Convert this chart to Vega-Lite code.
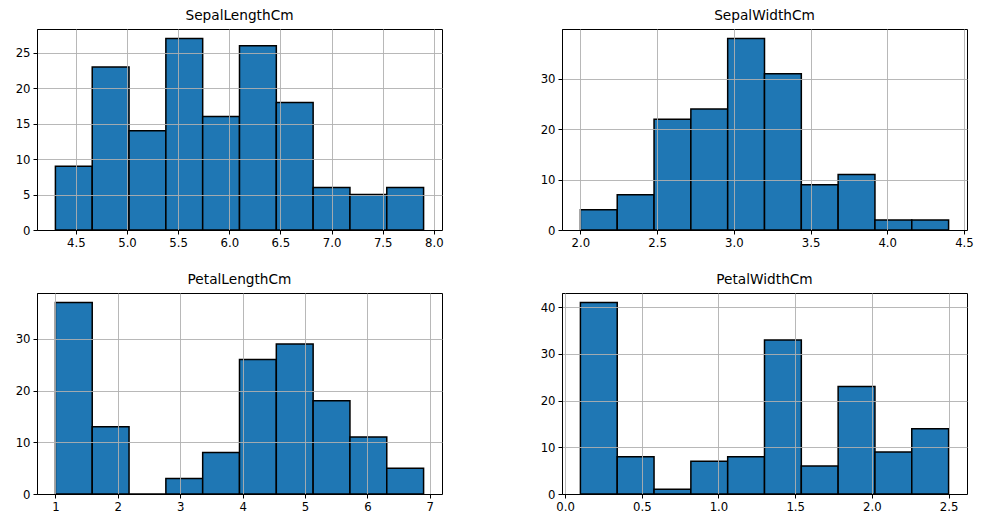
{
  "$schema": "https://vega.github.io/schema/vega-lite/v6.json",
  "background": "white",
  "padding": {"left": 14, "top": 8, "right": 5, "bottom": 5},
  "config": {
    "font": "DejaVu Sans",
    "view": {"stroke": "black", "strokeWidth": 1},
    "axis": {
      "labelFont": "DejaVu Sans", "labelFontSize": 11.7, "labelColor": "black",
      "tickColor": "black", "tickSize": 4, "tickWidth": 1, "labelPadding": 3,
      "domainColor": "black", "domainWidth": 1,
      "grid": true, "gridColor": "#b0b0b0", "gridWidth": 0.9,
      "title": null
    },
    "title": {"font": "DejaVu Sans", "fontSize": 13.7, "fontWeight": "normal", "color": "black", "offset": 6}
  },
  "data": {"values": [
    {"v": "SepalLengthCm", "lo": 4.3, "hi": 4.66, "n": 9},
    {"v": "SepalLengthCm", "lo": 4.66, "hi": 5.02, "n": 23},
    {"v": "SepalLengthCm", "lo": 5.02, "hi": 5.38, "n": 14},
    {"v": "SepalLengthCm", "lo": 5.38, "hi": 5.74, "n": 27},
    {"v": "SepalLengthCm", "lo": 5.74, "hi": 6.1, "n": 16},
    {"v": "SepalLengthCm", "lo": 6.1, "hi": 6.46, "n": 26},
    {"v": "SepalLengthCm", "lo": 6.46, "hi": 6.82, "n": 18},
    {"v": "SepalLengthCm", "lo": 6.82, "hi": 7.18, "n": 6},
    {"v": "SepalLengthCm", "lo": 7.18, "hi": 7.54, "n": 5},
    {"v": "SepalLengthCm", "lo": 7.54, "hi": 7.9, "n": 6},
    {"v": "SepalWidthCm", "lo": 2.0, "hi": 2.24, "n": 4},
    {"v": "SepalWidthCm", "lo": 2.24, "hi": 2.48, "n": 7},
    {"v": "SepalWidthCm", "lo": 2.48, "hi": 2.72, "n": 22},
    {"v": "SepalWidthCm", "lo": 2.72, "hi": 2.96, "n": 24},
    {"v": "SepalWidthCm", "lo": 2.96, "hi": 3.2, "n": 38},
    {"v": "SepalWidthCm", "lo": 3.2, "hi": 3.44, "n": 31},
    {"v": "SepalWidthCm", "lo": 3.44, "hi": 3.68, "n": 9},
    {"v": "SepalWidthCm", "lo": 3.68, "hi": 3.92, "n": 11},
    {"v": "SepalWidthCm", "lo": 3.92, "hi": 4.16, "n": 2},
    {"v": "SepalWidthCm", "lo": 4.16, "hi": 4.4, "n": 2},
    {"v": "PetalLengthCm", "lo": 1.0, "hi": 1.59, "n": 37},
    {"v": "PetalLengthCm", "lo": 1.59, "hi": 2.18, "n": 13},
    {"v": "PetalLengthCm", "lo": 2.18, "hi": 2.77, "n": 0},
    {"v": "PetalLengthCm", "lo": 2.77, "hi": 3.36, "n": 3},
    {"v": "PetalLengthCm", "lo": 3.36, "hi": 3.95, "n": 8},
    {"v": "PetalLengthCm", "lo": 3.95, "hi": 4.54, "n": 26},
    {"v": "PetalLengthCm", "lo": 4.54, "hi": 5.13, "n": 29},
    {"v": "PetalLengthCm", "lo": 5.13, "hi": 5.72, "n": 18},
    {"v": "PetalLengthCm", "lo": 5.72, "hi": 6.31, "n": 11},
    {"v": "PetalLengthCm", "lo": 6.31, "hi": 6.9, "n": 5},
    {"v": "PetalWidthCm", "lo": 0.1, "hi": 0.34, "n": 41},
    {"v": "PetalWidthCm", "lo": 0.34, "hi": 0.58, "n": 8},
    {"v": "PetalWidthCm", "lo": 0.58, "hi": 0.82, "n": 1},
    {"v": "PetalWidthCm", "lo": 0.82, "hi": 1.06, "n": 7},
    {"v": "PetalWidthCm", "lo": 1.06, "hi": 1.3, "n": 8},
    {"v": "PetalWidthCm", "lo": 1.3, "hi": 1.54, "n": 33},
    {"v": "PetalWidthCm", "lo": 1.54, "hi": 1.78, "n": 6},
    {"v": "PetalWidthCm", "lo": 1.78, "hi": 2.02, "n": 23},
    {"v": "PetalWidthCm", "lo": 2.02, "hi": 2.26, "n": 9},
    {"v": "PetalWidthCm", "lo": 2.26, "hi": 2.5, "n": 14}
  ]},
  "columns": 2,
  "spacing": {"column": 95, "row": 22},
  "concat": [
    {
      "title": "SepalLengthCm", "width": 405, "height": 201,
      "transform": [{"filter": "datum.v == 'SepalLengthCm'"}],
      "mark": {"type": "bar", "color": "#1f77b4", "stroke": "black", "strokeWidth": 1.5},
      "encoding": {
        "x": {"field": "lo", "type": "quantitative", "scale": {"domain": [4.12, 8.08], "nice": false, "zero": false}, "axis": {"zindex": 1, "values": [4.5, 5.0, 5.5, 6.0, 6.5, 7.0, 7.5, 8.0], "format": ".1f"}},
        "x2": {"field": "hi"},
        "y": {"field": "n", "type": "quantitative", "scale": {"domain": [0, 28.35], "nice": false}, "axis": {"zindex": 1, "values": [0, 5, 10, 15, 20, 25]}},
        "y2": {"datum": 0}
      }
    },
    {
      "title": "SepalWidthCm", "width": 405, "height": 201,
      "transform": [{"filter": "datum.v == 'SepalWidthCm'"}],
      "mark": {"type": "bar", "color": "#1f77b4", "stroke": "black", "strokeWidth": 1.5},
      "encoding": {
        "x": {"field": "lo", "type": "quantitative", "scale": {"domain": [1.88, 4.52], "nice": false, "zero": false}, "axis": {"zindex": 1, "values": [2.0, 2.5, 3.0, 3.5, 4.0, 4.5], "format": ".1f"}},
        "x2": {"field": "hi"},
        "y": {"field": "n", "type": "quantitative", "scale": {"domain": [0, 39.9], "nice": false}, "axis": {"zindex": 1, "values": [0, 10, 20, 30]}},
        "y2": {"datum": 0}
      }
    },
    {
      "title": "PetalLengthCm", "width": 405, "height": 201,
      "transform": [{"filter": "datum.v == 'PetalLengthCm'"}],
      "mark": {"type": "bar", "color": "#1f77b4", "stroke": "black", "strokeWidth": 1.5},
      "encoding": {
        "x": {"field": "lo", "type": "quantitative", "scale": {"domain": [0.705, 7.195], "nice": false, "zero": false}, "axis": {"zindex": 1, "values": [1, 2, 3, 4, 5, 6, 7], "format": "d"}},
        "x2": {"field": "hi"},
        "y": {"field": "n", "type": "quantitative", "scale": {"domain": [0, 38.85], "nice": false}, "axis": {"zindex": 1, "values": [0, 10, 20, 30]}},
        "y2": {"datum": 0}
      }
    },
    {
      "title": "PetalWidthCm", "width": 405, "height": 201,
      "transform": [{"filter": "datum.v == 'PetalWidthCm'"}],
      "mark": {"type": "bar", "color": "#1f77b4", "stroke": "black", "strokeWidth": 1.5},
      "encoding": {
        "x": {"field": "lo", "type": "quantitative", "scale": {"domain": [-0.02, 2.62], "nice": false, "zero": false}, "axis": {"zindex": 1, "values": [0.0, 0.5, 1.0, 1.5, 2.0, 2.5], "format": ".1f"}},
        "x2": {"field": "hi"},
        "y": {"field": "n", "type": "quantitative", "scale": {"domain": [0, 43.05], "nice": false}, "axis": {"zindex": 1, "values": [0, 10, 20, 30, 40]}},
        "y2": {"datum": 0}
      }
    }
  ]
}
